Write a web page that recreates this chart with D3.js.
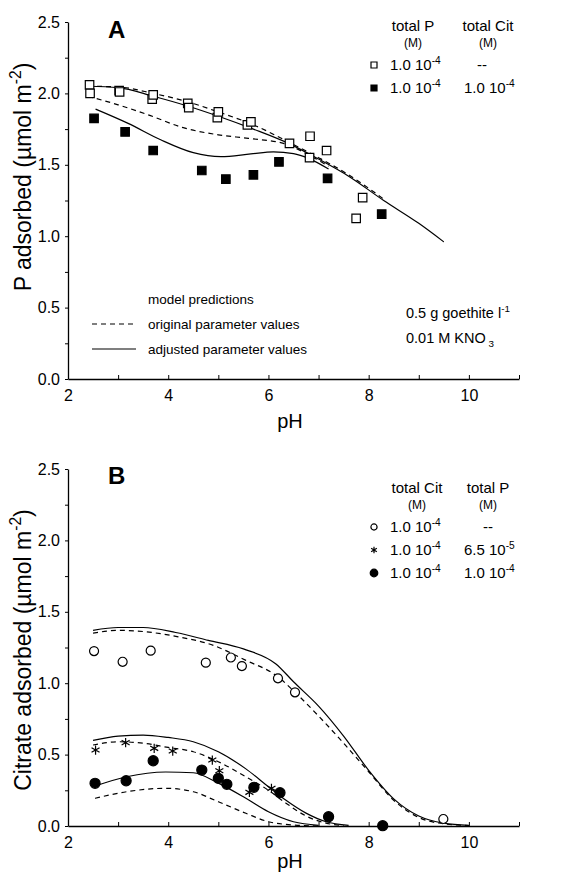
<!DOCTYPE html>
<html>
<head>
<meta charset="utf-8">
<script src="https://cdn.jsdelivr.net/npm/d3@7"></script>
<style>
body { margin: 0; background: #fff; }
text { font-family: "Liberation Sans", Arial, sans-serif; fill: #000; }
</style>
</head>
<body>
<svg id="chart" width="576" height="877"></svg>
<script>
// ---- panel A : P adsorbed ----
var phA_P = [2.43, 2.44, 3.02, 3.03, 3.68, 3.70, 4.39, 4.41, 4.98, 5.00, 5.58, 5.65, 6.42, 6.82, 6.83, 7.16, 7.75, 7.88];
var pA_P = [2.06, 2.00, 2.02, 2.01, 1.96, 1.99, 1.93, 1.90, 1.83, 1.87, 1.78, 1.80, 1.65, 1.55, 1.70, 1.60, 1.125, 1.27];
var phA_PCit = [2.52, 3.14, 3.70, 4.67, 5.15, 5.70, 6.21, 7.18, 8.26];
var pA_PCit = [1.825, 1.73, 1.60, 1.46, 1.40, 1.43, 1.52, 1.405, 1.155];

// model curves A
var phA_adjP = [2.4, 3.0, 3.7, 4.4, 5.0, 5.7, 6.4, 7.0, 7.6, 8.3, 9.0, 9.5];
var pA_adjP = [2.05, 2.04, 1.98, 1.91, 1.84, 1.75, 1.65, 1.54, 1.42, 1.25, 1.09, 0.96];
var phA_origP = [2.4, 3.0, 3.7, 4.4, 5.0, 5.7, 6.4, 7.0, 7.6, 8.3];
var pA_origP = [2.05, 2.045, 2.00, 1.94, 1.87, 1.78, 1.66, 1.55, 1.43, 1.26];
var phA_origCit = [2.4, 3.0, 3.6, 4.3, 5.0, 5.6, 6.3, 6.8, 7.2];
var pA_origCit = [1.98, 1.92, 1.85, 1.76, 1.71, 1.685, 1.65, 1.57, 1.49];
var phA_adjCit = [2.55, 3.2, 3.85, 4.5, 5.05, 5.65, 6.1, 6.5, 6.8, 7.2];
var pA_adjCit = [1.89, 1.79, 1.675, 1.585, 1.557, 1.576, 1.59, 1.578, 1.545, 1.47];

// ---- panel B : citrate adsorbed ----
var phB_Cit = [2.52, 3.09, 3.65, 4.75, 5.25, 5.47, 6.19, 6.53, 9.49];
var cB_Cit = [1.225, 1.15, 1.228, 1.144, 1.18, 1.12, 1.034, 0.936, 0.049];
var phB_CitP65 = [2.55, 3.15, 3.72, 4.09, 4.88, 5.02, 5.62, 6.06];
var cB_CitP65 = [0.532, 0.584, 0.544, 0.525, 0.462, 0.387, 0.236, 0.264];
var phB_CitP100 = [2.54, 3.16, 3.70, 4.67, 5.00, 5.17, 5.71, 6.23, 7.20, 8.28];
var cB_CitP100 = [0.299, 0.317, 0.457, 0.392, 0.334, 0.292, 0.271, 0.233, 0.065, 0.002];

// model curves B
var phB_adjCit = [2.5, 3.0, 3.5, 4.15, 4.8, 5.5, 6.15, 6.5, 7.0, 7.5, 8.0, 8.5, 9.0, 9.5, 10.0];
var cB_adjCit = [1.37, 1.39, 1.39, 1.355, 1.30, 1.24, 1.135, 1.01, 0.84, 0.63, 0.39, 0.19, 0.07, 0.02, 0.005];
var phB_origCit = [2.5, 3.0, 3.55, 4.2, 4.9, 5.55, 6.15, 6.55, 7.0, 7.5, 8.0, 8.5, 9.0, 9.5, 10.0];
var cB_origCit = [1.35, 1.37, 1.36, 1.325, 1.265, 1.16, 1.055, 0.93, 0.77, 0.58, 0.38, 0.18, 0.06, 0.015, 0.003];
var phB_adjP65 = [2.5, 3.0, 3.5, 4.0, 4.5, 5.0, 5.55, 6.0, 6.35, 6.75, 7.15, 7.6];
var cB_adjP65 = [0.60, 0.63, 0.637, 0.62, 0.59, 0.52, 0.40, 0.275, 0.18, 0.09, 0.03, 0.005];
var phB_origP65 = [2.5, 3.0, 3.5, 4.0, 4.5, 5.0, 5.55, 6.0, 6.35, 6.75, 7.15, 7.5];
var cB_origP65 = [0.567, 0.59, 0.58, 0.55, 0.52, 0.45, 0.345, 0.25, 0.16, 0.07, 0.02, 0.003];
var phB_adjP100 = [2.54, 3.17, 3.95, 4.5, 5.0, 5.55, 6.0, 6.5, 7.0];
var cB_adjP100 = [0.28, 0.345, 0.378, 0.373, 0.30, 0.194, 0.10, 0.03, 0.005];
var phB_origP100 = [2.54, 3.17, 3.95, 4.5, 5.0, 5.55, 6.0, 6.5, 7.0];
var cB_origP100 = [0.194, 0.24, 0.264, 0.24, 0.17, 0.089, 0.03, 0.007, 0.0];

// ticks
var xMajor = [2, 4, 6, 8, 10];
var xMinor = [3, 5, 7, 9, 11];
var yMajor = [0, 0.5, 1.0, 1.5, 2.0, 2.5];
var yMinor = [0.25, 0.75, 1.25, 1.75, 2.25];

var svg = d3.select("#chart");

function zip(xs, ys) { return xs.map(function(d, i){ return [d, ys[i]]; }); }

// text with a superscript piece: parts = [[txt, isSup], ...]
function richText(g, parts, x, y, size, anchor) {
  var t = g.append("text").attr("x", x).attr("y", y)
      .style("font-size", size + "px")
      .attr("text-anchor", anchor || "start");
  var up = false;
  parts.forEach(function(p){
    var s = t.append("tspan").text(p[0]);
    if (p[1] == 1 && !up) { s.attr("dy", -0.42 * size).style("font-size", (size * 0.68) + "px"); up = true; }
    else if (p[1] == -1 && !up) { s.attr("dy", 0.3 * size).style("font-size", (size * 0.68) + "px"); up = "down"; }
    else if (!p[1] && up) { s.attr("dy", (up === "down" ? -0.3 : 0.42) * size); up = false; }
  });
  return t;
}

function makePanel(top, yLabel, labelMid, phY) {
  var x = d3.scaleLinear().domain([2, 11]).range([68, 519]);
  var y = d3.scaleLinear().domain([0, 2.5]).range([top + 357, top]);
  var g = svg.append("g");

  // y axis
  g.append("g").attr("transform", "translate(68,0)")
    .call(d3.axisLeft(y).tickValues(yMinor).tickSize(3).tickFormat(""))
    .call(function(a){ a.select(".domain").remove(); });
  g.append("g").attr("transform", "translate(68,0)")
    .call(d3.axisLeft(y).tickValues(yMajor).tickSize(3).tickSizeOuter(0).tickPadding(5)
      .tickFormat(d3.format(".1f")))
    .call(function(a){
      a.selectAll("text").style("font-size", "16px").style("font-family", "Liberation Sans, Arial, sans-serif");
      a.select(".domain").attr("stroke-width", 1.3);
    });

  // x axis, ticks pointing inward
  var xb = top + 357;
  g.append("g").attr("transform", "translate(0," + xb + ")")
    .call(d3.axisBottom(x).tickValues(xMinor).tickSize(-4).tickFormat(""))
    .call(function(a){ a.select(".domain").remove(); });
  g.append("g").attr("transform", "translate(0," + xb + ")")
    .call(d3.axisBottom(x).tickValues(xMajor).tickSize(-4).tickSizeOuter(0).tickPadding(11))
    .call(function(a){
      a.selectAll("text").style("font-size", "16px").style("font-family", "Liberation Sans, Arial, sans-serif");
      a.select(".domain").attr("stroke-width", 1.3);
    });

  g.append("text").attr("x", 290).attr("y", phY)
    .attr("text-anchor", "middle").style("font-size", "20px").text("pH");

  var yl = g.append("g").attr("transform", "translate(31," + labelMid + ") rotate(-90)");
  richText(yl, [[yLabel + " (\u00b5mol m", 0], ["-2", 1], [")", 0]], 0, 0, 23, "middle");

  return { g: g, x: x, y: y };
}

function curve(p, xs, ys, dashed) {
  var line = d3.line().x(function(d){ return p.x(d[0]); }).y(function(d){ return p.y(d[1]); })
    .curve(d3.curveMonotoneX);
  p.g.append("path").datum(zip(xs, ys))
    .attr("d", line).attr("fill", "none").attr("stroke", "#000").attr("stroke-width", 1.2)
    .attr("stroke-dasharray", dashed ? "5,4" : null);
}

function points(p, xs, ys, type, size, filled) {
  var sym = d3.symbol().type(type).size(size);
  p.g.selectAll(null).data(zip(xs, ys)).enter().append("path")
    .attr("transform", function(d){ return "translate(" + p.x(d[0]) + "," + p.y(d[1]) + ")"; })
    .attr("d", sym)
    .attr("fill", filled ? "#000" : "#fff")
    .attr("stroke", "#000").attr("stroke-width", 1.2);
}

// ---------- Panel A ----------
var A = makePanel(22, "P adsorbed", 177, 428);
curve(A, phA_origP, pA_origP, true);
curve(A, phA_adjP, pA_adjP, false);
curve(A, phA_origCit, pA_origCit, true);
curve(A, phA_adjCit, pA_adjCit, false);
points(A, phA_P, pA_P, d3.symbolSquare, 72, false);
points(A, phA_PCit, pA_PCit, d3.symbolSquare, 72, true);

A.g.append("text").attr("x", 108).attr("y", 38).style("font-size", "24px")
  .style("font-weight", "bold").text("A");

// legend A
A.g.append("text").attr("x", 413).attr("y", 31).attr("text-anchor", "middle").style("font-size", "15px").text("total P");
A.g.append("text").attr("x", 488).attr("y", 31).attr("text-anchor", "middle").style("font-size", "15px").text("total Cit");
A.g.append("text").attr("x", 413).attr("y", 47).attr("text-anchor", "middle").style("font-size", "12px").text("(M)");
A.g.append("text").attr("x", 488).attr("y", 47).attr("text-anchor", "middle").style("font-size", "12px").text("(M)");
var legA = [{sym: d3.symbolSquare, fill: false, y: 70, cit: "--"}, {sym: d3.symbolSquare, fill: true, y: 93, cit: "1.0 10"}];
legA.forEach(function(r){
  A.g.append("path").attr("transform", "translate(374," + (r.y - 5) + ")")
    .attr("d", d3.symbol().type(r.sym).size(36)).attr("fill", r.fill ? "#000" : "#fff")
    .attr("stroke", "#000").attr("stroke-width", 1.2);
  richText(A.g, [["1.0 10", 0], ["-4", 1]], 390, r.y, 15);
  if (r.cit == "--") A.g.append("text").attr("x", 482).attr("y", r.y).attr("text-anchor", "middle").style("font-size", "15px").text("--");
  else richText(A.g, [["1.0 10", 0], ["-4", 1]], 464, r.y, 15);
});

// model legend
A.g.append("text").attr("x", 148).attr("y", 304).style("font-size", "13.5px").text("model predictions");
A.g.append("text").attr("x", 148).attr("y", 329).style("font-size", "13.5px").text("original parameter values");
A.g.append("text").attr("x", 148).attr("y", 354).style("font-size", "13.5px").text("adjusted parameter values");
A.g.append("line").attr("x1", 92).attr("x2", 134).attr("y1", 324).attr("y2", 324)
  .attr("stroke", "#000").attr("stroke-width", 1.2).attr("stroke-dasharray", "5,4");
A.g.append("line").attr("x1", 92).attr("x2", 136).attr("y1", 349).attr("y2", 349)
  .attr("stroke", "#000").attr("stroke-width", 1.2);

richText(A.g, [["0.5 g goethite l", 0], ["-1", 1]], 406, 318, 14.5);
richText(A.g, [["0.01 M KNO", 0], [" 3", -1]], 406, 343, 14.5);

// ---------- Panel B ----------
var B = makePanel(469, "Citrate adsorbed", 650, 868);
curve(B, phB_origCit, cB_origCit, true);
curve(B, phB_adjCit, cB_adjCit, false);
curve(B, phB_origP65, cB_origP65, true);
curve(B, phB_adjP65, cB_adjP65, false);
curve(B, phB_origP100, cB_origP100, true);
curve(B, phB_adjP100, cB_adjP100, false);
points(B, phB_Cit, cB_Cit, d3.symbolCircle, 64, false);
points(B, phB_CitP65, cB_CitP65, d3.symbolAsterisk, 60, false);
points(B, phB_CitP100, cB_CitP100, d3.symbolCircle, 80, true);

B.g.append("text").attr("x", 108).attr("y", 484).style("font-size", "24px")
  .style("font-weight", "bold").text("B");

B.g.append("text").attr("x", 417).attr("y", 493).attr("text-anchor", "middle").style("font-size", "15px").text("total Cit");
B.g.append("text").attr("x", 488).attr("y", 493).attr("text-anchor", "middle").style("font-size", "15px").text("total P");
B.g.append("text").attr("x", 417).attr("y", 509).attr("text-anchor", "middle").style("font-size", "12px").text("(M)");
B.g.append("text").attr("x", 488).attr("y", 509).attr("text-anchor", "middle").style("font-size", "12px").text("(M)");
var legB = [
  {sym: d3.symbolCircle, size: 30, fill: false, y: 532, p: null},
  {sym: d3.symbolAsterisk, size: 30, fill: false, y: 555, p: ["6.5 10", "-5"]},
  {sym: d3.symbolCircle, size: 45, fill: true, y: 578, p: ["1.0 10", "-4"]}
];
legB.forEach(function(r){
  B.g.append("path").attr("transform", "translate(374," + (r.y - 5) + ")")
    .attr("d", d3.symbol().type(r.sym).size(r.size)).attr("fill", r.fill ? "#000" : "#fff")
    .attr("stroke", "#000").attr("stroke-width", 1.2);
  richText(B.g, [["1.0 10", 0], ["-4", 1]], 390, r.y, 15);
  if (!r.p) B.g.append("text").attr("x", 488).attr("y", r.y).attr("text-anchor", "middle").style("font-size", "15px").text("--");
  else richText(B.g, [[r.p[0], 0], [r.p[1], 1]], 464, r.y, 15);
});
</script>
</body>
</html>
